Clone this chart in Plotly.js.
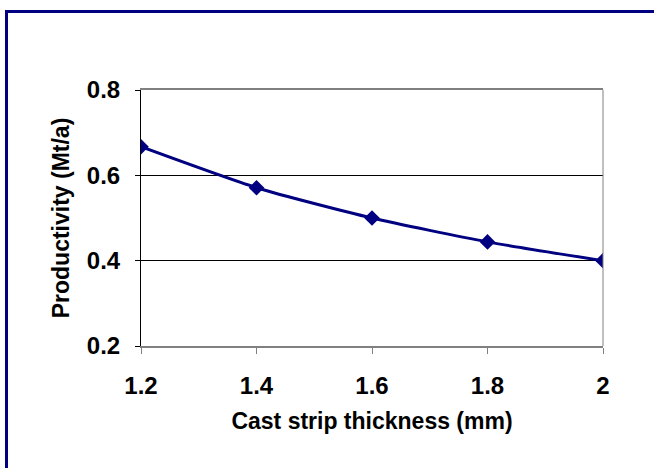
<!DOCTYPE html>
<html>
<head>
<meta charset="utf-8">
<script src="https://cdn.plot.ly/plotly-3.0.1.min.js"></script>
<style>
html,body{margin:0;padding:0;background:#fff;}
#wrap{position:absolute;left:0;top:0;width:654px;height:468px;}
#frame{position:absolute;left:5px;top:10px;width:660px;height:470px;border-top:3px solid #000080;border-left:3px solid #000080;pointer-events:none;}
#chart{position:absolute;left:0;top:0;width:654px;height:468px;}
</style>
</head>
<body>
<div id="wrap"><div id="chart"></div><div id="frame"></div></div>
<script>
const thickness = [1.2, 1.4, 1.6, 1.8, 2.0];
const productivity = [0.667, 0.571, 0.5, 0.444, 0.4];
const xTicks = [1.2, 1.4, 1.6, 1.8, 2];
const xTickLabels = ['1.2', '1.4', '1.6', '1.8', '2'];
const yTicks = [0.2, 0.4, 0.6, 0.8];
const yTickLabels = ['0.2', '0.4', '0.6', '0.8'];

const fontFam = 'Liberation Sans, Arial, sans-serif';
const bold = s => '<b>' + s + '</b>';
const trace = {
  x: thickness, y: productivity, type: 'scatter', mode: 'lines+markers',
  line: {color: '#000080', width: 3, shape: 'spline', smoothing: 0.6},
  marker: {symbol: 'diamond', size: 12, color: '#000080'},
  hoverinfo: 'skip'
};
const layout = {
  width: 654, height: 468,
  margin: {l: 141, r: 51, t: 90, b: 122},
  paper_bgcolor: '#fff', plot_bgcolor: '#fff',
  showlegend: false,
  font: {family: fontFam, color: '#000', size: 20},
  xaxis: {
    range: [1.2, 2], tickvals: xTicks, ticktext: xTickLabels.map(bold),
    showgrid: false, zeroline: false,
    showline: true, linecolor: '#808080', linewidth: 2, mirror: true,
    ticks: 'outside', ticklen: 6, tickcolor: '#808080', tickwidth: 1,
    ticklabelstandoff: 11,
    tickfont: {family: fontFam, size: 24, color: '#000'},
    title: {text: bold('Cast strip thickness (mm)'), standoff: 15,
            font: {family: fontFam, size: 23, color: '#000'}}
  },
  yaxis: {
    range: [0.2, 0.8], tickvals: yTicks, ticktext: yTickLabels.map(bold),
    showgrid: true, gridcolor: '#000', gridwidth: 1, zeroline: false,
    showline: true, linecolor: '#000', linewidth: 1,
    ticks: 'outside', ticklen: 5, tickcolor: '#000', tickwidth: 1,
    ticklabelstandoff: 10,
    tickfont: {family: fontFam, size: 24, color: '#000'},
    title: {text: bold('Productivity (Mt/a)'), standoff: 10,
            font: {family: fontFam, size: 23, color: '#000'}}
  },
  shapes: [
    {type: 'line', xref: 'paper', yref: 'paper', x0: 1, x1: 1, y0: 0, y1: 1,
     line: {color: '#808080', width: 1}}
  ]
};
Plotly.newPlot('chart', [trace], layout, {staticPlot: true, displayModeBar: false});
</script>
</body>
</html>
